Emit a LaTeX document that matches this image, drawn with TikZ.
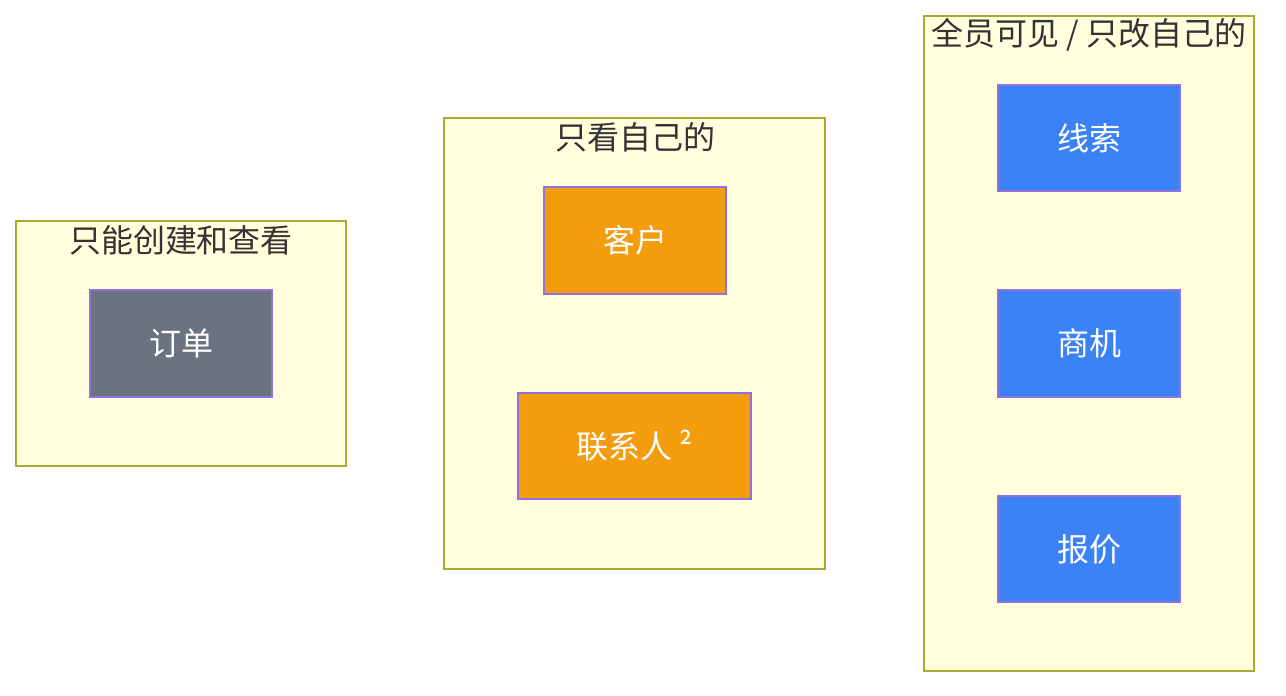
\documentclass[tikz,border=0pt]{standalone}
\usepackage{fontspec}
\setmainfont{Noto Sans CJK SC}
\begin{document}
\begin{tikzpicture}[x=1pt,y=-1pt,
  cluster/.style={draw=clusterline,fill=clusterfill,line width=1.5pt},
  ttl/.style={text=titlecol,font=\fontsize{32}{36}\selectfont,inner sep=0pt,anchor=center},
  box/.style={draw=nodeline,line width=1.5pt,text=white,font=\fontsize{32}{36}\selectfont}]
\definecolor{clusterline}{HTML}{AAAA33}
\definecolor{clusterfill}{HTML}{FFFFDE}
\definecolor{nodeline}{HTML}{9370DB}
\definecolor{titlecol}{HTML}{333333}
\definecolor{graycol}{HTML}{6B7280}
\definecolor{orangecol}{HTML}{F39C0D}
\definecolor{bluecol}{HTML}{3B82F6}
\useasboundingbox (0,0) rectangle (1286,696);
% clusters
\draw[cluster] (16,221) rectangle (346,466);
\node[ttl] (t1) at (181,240) {只能创建和查看};
\draw[cluster] (444,118) rectangle (825,569);
\node[ttl] (t2) at (635,137) {只看自己的};
\draw[cluster] (924,16) rectangle (1254,671);
\node[ttl] (t3) at (1089,35) {全员可见 / 只改自己的};
% nodes
\draw[box,fill=graycol] (90,290) rectangle node (dingdan) {订单} (272,397);
\draw[box,fill=orangecol] (544,187) rectangle node (kehu) {客户} (726,294);
\draw[box,fill=orangecol] (518,393) rectangle node (lianxiren) {联系人 ²} (751,499);
\draw[box,fill=bluecol] (998,85) rectangle node (xiansuo) {线索} (1180,191);
\draw[box,fill=bluecol] (998,290) rectangle node (shangji) {商机} (1180,397);
\draw[box,fill=bluecol] (998,496) rectangle node (baojia) {报价} (1180,602);
\end{tikzpicture}
\end{document}
